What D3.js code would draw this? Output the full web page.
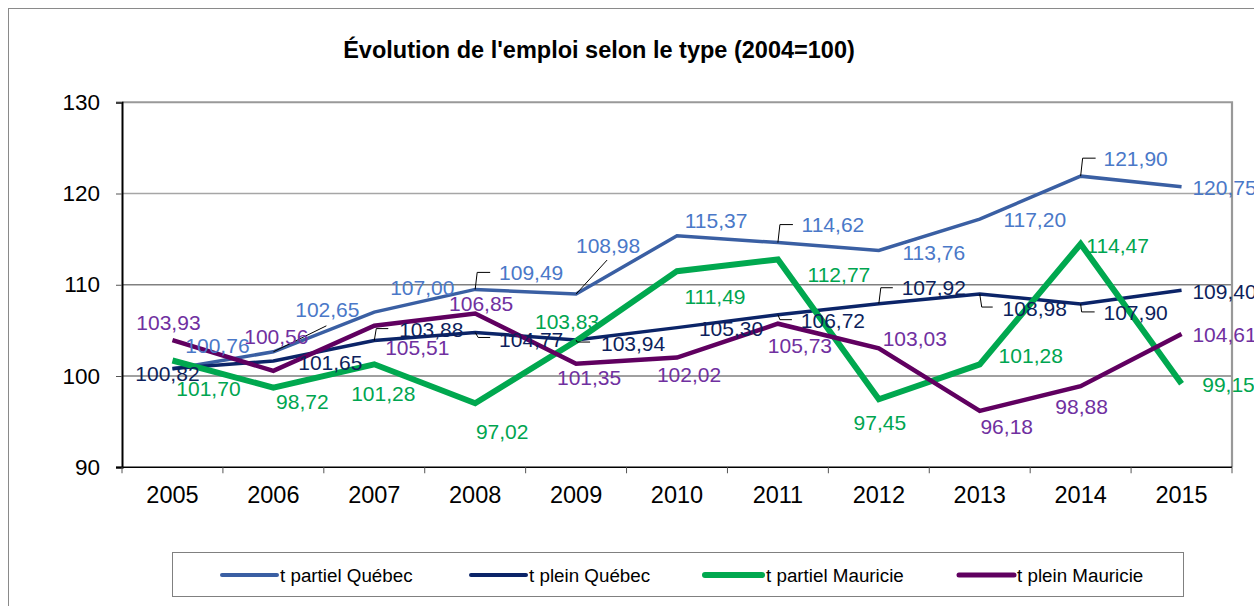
<!DOCTYPE html>
<html><head><meta charset="utf-8">
<script src="https://cdn.jsdelivr.net/npm/d3@7"></script>
<style>
html,body{margin:0;padding:0;background:#fff;overflow:hidden}
svg{display:block}
text{font-family:"Liberation Sans",Arial,sans-serif}
</style></head>
<body>
<svg id="c" width="1254" height="606"></svg>
<script>
// ---- data ----
const years = ["2005","2006","2007","2008","2009","2010","2011","2012","2013","2014","2015"];
const partielQuebec  = [100.76,102.65,107.00,109.49,108.98,115.37,114.62,113.76,117.20,121.90,120.75];
const pleinQuebec    = [100.82,101.65,103.88,104.77,103.94,105.30,106.72,107.92,108.98,107.90,109.40];
const partielMauricie= [101.70,98.72,101.28,97.02,103.83,111.49,112.77,97.45,101.28,114.47,99.15];
const pleinMauricie  = [103.93,100.56,105.51,106.85,101.35,102.02,105.73,103.03,96.18,98.88,104.61];
const seriesNames = ["t partiel Québec","t plein Québec","t partiel Mauricie","t plein Mauricie"];
const yTicks = [90,100,110,120,130];
const title = "Évolution de l'emploi selon le type (2004=100)";

// ---- layout (label offsets relative to point, px) ----
const labelOffsets = [
  [[45,-24],[54,-42],[48,-25],[56,-17],[32,-49],[39,-15],[55,-18],[55,2],[55,0],[55,-18],[43,1]],
  [[-5,5],[57,1],[57,-11],[56,7],[57,3],[54,1],[55,6],[55,-16],[55,14],[55,9],[43,1]],
  [[36,28],[29,14],[9,29],[27,28],[-9,-20],[38,25],[61,15],[1,23],[51,-9],[37,1],[47,1]],
  [[-4,-18],[3,-34],[43,22],[6,-10],[13,14],[12,17],[22,22],[36,-10],[27,16],[1,20],[43,1]]
];
const leaders = [
  {1:[[0,0],[53,-26]],3:[[0,0],[2,-17],[15,-17]],4:[[0,0],[31,-34]],6:[[0,0],[2,-18],[15,-18]],9:[[0,0],[2,-18],[15,-18]]},
  {2:[[0,0],[2,-12],[14,-12]],3:[[0,0],[3,5],[15,5]],4:[[0,0],[1,2],[14,2]],6:[[0,0],[2,5],[14,5]],7:[[0,0],[2,-16],[14,-16]],8:[[0,0],[2,13],[13,13]],9:[[0,0],[1,8],[14,8]]},
  {},{}
];
const lineColors  = ["#3a5fa3","#0b2468","#00a84f","#600060"];
const labelColors = ["#4a78c8","#0d1f5c","#00a550","#7030a0"];
const lineWidths  = [3.5,3.5,6,4.5];

const svg = d3.select("#c");
const allSeries = [partielQuebec, pleinQuebec, partielMauricie, pleinMauricie];
const m = {l:122, t:102.25, r:1232, b:467.25};

const x = d3.scaleBand().domain(years).range([m.l, m.r]);
const y = d3.scaleLinear().domain([90,130]).range([m.b, m.t]);
const cx = d => x(d) + x.bandwidth()/2;

// outer border
svg.append("rect").attr("x",8.5).attr("y",8.5).attr("width",1300).attr("height",700)
  .attr("fill","none").attr("stroke","#8a8a8a").attr("stroke-width",1);

// title
svg.append("text").attr("x",599).attr("y",58).attr("text-anchor","middle")
  .attr("font-weight","bold").attr("font-size",23.5).attr("fill","#000").text(title);

// gridlines
svg.append("g").selectAll("line").data(yTicks.filter(t=>t>90 && t<130)).join("line")
  .attr("x1",m.l).attr("x2",m.r).attr("y1",d=>y(d)).attr("y2",d=>y(d))
  .attr("stroke",d=>d===120?"#a6a6a6":"#808080").attr("stroke-width",1.3);

// plot border top/right
svg.append("path").attr("d",`M${m.l},${m.t}H${m.r}V${m.b}`).attr("fill","none")
  .attr("stroke","#999").attr("stroke-width",2.2);

// y axis
const yAxis = d3.axisLeft(y).tickValues(yTicks).tickSize(6).tickPadding(16).tickFormat(d3.format("d"));
const gy = svg.append("g").attr("transform",`translate(${m.l},0)`).call(yAxis);
gy.select(".domain").attr("stroke","#000").attr("stroke-width",2);
gy.selectAll(".tick line").attr("stroke","#555");
gy.selectAll(".tick text").attr("font-size",22.5).attr("fill","#000").attr("font-family",'"Liberation Sans",Arial,sans-serif');

// x axis
const xAxis = d3.axisBottom(x).tickSize(0).tickPadding(19);
const gx = svg.append("g").attr("transform",`translate(0,${m.b})`).call(xAxis);
gx.select(".domain").remove();
gx.selectAll(".tick text").attr("font-size",23.5).attr("fill","#000").attr("font-family",'"Liberation Sans",Arial,sans-serif');
svg.append("line").attr("x1",m.l-6).attr("x2",m.r).attr("y1",m.b).attr("y2",m.b).attr("stroke","#000").attr("stroke-width",1.6);
const bounds = years.map(d=>x(d)).concat([m.r]);
svg.append("g").selectAll("line").data(bounds).join("line")
  .attr("x1",d=>d).attr("x2",d=>d).attr("y1",m.b).attr("y2",m.b+6).attr("stroke","#555").attr("stroke-width",1);

// lines
const lineGen = d3.line().x((d,i)=>cx(years[i])).y(d=>y(d));
allSeries.forEach((s,k)=>{
  svg.append("path").datum(s).attr("d",lineGen).attr("fill","none")
    .attr("stroke",lineColors[k]).attr("stroke-width",lineWidths[k]).attr("stroke-linejoin","miter");
});

// leaders + labels
const fmt = v => d3.format(".2f")(v).replace(".",",");
allSeries.forEach((s,k)=>{
  const g = svg.append("g");
  s.forEach((v,i)=>{
    const px = cx(years[i]), py = y(v);
    const L = leaders[k][i];
    if (L) {
      g.append("path").attr("d", d3.line()(L.map(p=>[px+p[0], py+p[1]])))
        .attr("fill","none").attr("stroke","#000").attr("stroke-width",1);
    }
    const o = labelOffsets[k][i];
    g.append("text").attr("x",px+o[0]).attr("y",py+o[1]).attr("dy","0.36em")
      .attr("text-anchor","middle").attr("font-size",21).attr("fill",labelColors[k]).text(fmt(v));
  });
});

// legend
svg.append("rect").attr("x",172.5).attr("y",552.5).attr("width",1011).attr("height",44)
  .attr("fill","#fff").attr("stroke","#808080").attr("stroke-width",1);
const legX = [222,471,705,959];
const lg = svg.append("g").selectAll("g").data(seriesNames).join("g")
  .attr("transform",(d,i)=>`translate(${legX[i]},575)`);
lg.append("line").attr("x1",0).attr("x2",(d,i)=>i===2?57:55).attr("y1",0).attr("y2",0)
  .attr("stroke",(d,i)=>lineColors[i]).attr("stroke-width",(d,i)=>[4,4,6,5][i]).attr("stroke-linecap","round");
lg.append("text").attr("x",(d,i)=>i===2?61:58).attr("y",0).attr("dy","0.35em")
  .attr("font-size",18.8).attr("fill","#000").text(d=>d);
</script>
</body></html>
